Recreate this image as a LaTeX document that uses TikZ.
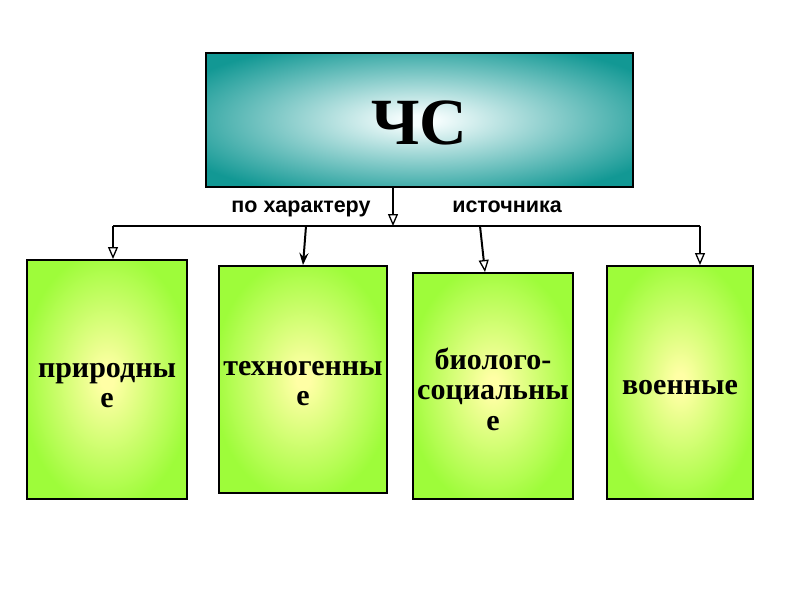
\documentclass[tikz,border=0pt]{standalone}
\usepackage{fontspec}
\setmainfont{Liberation Serif}
\newfontfamily\labelfont{Liberation Sans}
\usetikzlibrary{arrows.meta,shadings}
\definecolor{tealout}{RGB}{18,152,148}
\definecolor{tealin}{RGB}{245,253,253}
\definecolor{greenout}{RGB}{158,252,58}
\definecolor{greenin}{RGB}{255,255,165}
\pgfdeclareradialshading{tealshade}{\pgfpoint{0bp}{0bp}}{color(0bp)=(tealin); color(2bp)=(tealin); color(31bp)=(tealout); color(50bp)=(tealout)}
\pgfdeclareradialshading{greenshade}{\pgfpoint{0bp}{0bp}}{color(0bp)=(greenin); color(2bp)=(greenin); color(27bp)=(greenout); color(50bp)=(greenout)}
\tikzset{
  topbox/.style={draw=black, line width=2pt, shading=tealshade,
    minimum width=427pt, minimum height=134pt, inner sep=0pt},
  greenbox/.style={draw=black, line width=2pt, shading=greenshade, inner sep=0pt},
  bigtext/.style={inner sep=0pt, font=\bfseries\fontsize{66}{70}\selectfont},
  boxtext/.style={inner sep=0pt, align=center, font=\bfseries\fontsize{30}{30.5}\selectfont},
  conn/.style={line width=2pt, black},
  openarrow/.style={conn, -{Triangle[open, length=12pt, width=10pt, line width=1.3pt]}},
  barbarrow/.style={conn, -{Stealth[length=12pt, width=9pt, inset=4pt]}},
  lbl/.style={font=\labelfont\bfseries\fontsize{21.5}{24}\selectfont, inner sep=0pt, anchor=base}
}
\begin{document}
\begin{tikzpicture}[x=1pt, y=-1pt]
\useasboundingbox[fill=white] (0,0) rectangle (800,600);
\node[topbox] (top) at (419.5,120) {};
\node[bigtext] (tt) at ([yshift=-3pt]top.center) {ЧС};
\node[greenbox, minimum width=160pt, minimum height=239pt] (b1) at (107,379.5) {};
\node[greenbox, minimum width=168pt, minimum height=227pt] (b2) at (303,379.5) {};
\node[greenbox, minimum width=160pt, minimum height=226pt] (b3) at (493,386) {};
\node[greenbox, minimum width=146pt, minimum height=233pt] (b4) at (680,382.5) {};
\node[boxtext] (t1) at ([yshift=-6pt]b1.center) {природны\\е};
\node[boxtext] (t2) at ([yshift=-4pt]b2.center) {техногенны\\е};
\node[boxtext] (t3) at ([yshift=-3pt]b3.center) {биолого-\\социальны\\е};
\node[boxtext] (t4) at ([yshift=-5pt]b4.center) {военные};
\coordinate (hl) at (113,226);
\coordinate (hr) at (700,226);
\coordinate (j) at (393,226);
\coordinate (j2) at (306,226);
\coordinate (j3) at (480,226);
\draw[conn] (hl) -- (hr);
\draw[openarrow] (top.south -| j) -- (j);
\draw[openarrow] (hl) -- (hl |- b1.north);
\draw[barbarrow] (j2) -- (b2.north);
\draw[openarrow] (j3) -- ([xshift=-8pt]b3.north);
\draw[openarrow] (hr) -- (hr |- b4.north);
\node[lbl] (l1) at (301,212) {по характеру};
\node[lbl] (l2) at (507,212) {источника};
\end{tikzpicture}
\end{document}
